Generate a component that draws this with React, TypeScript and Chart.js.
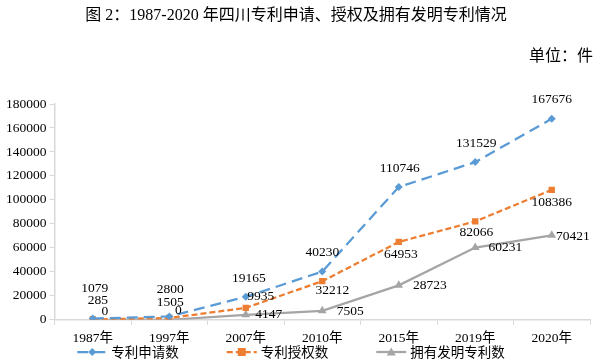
import React, { useEffect, useRef } from "react";
import { Chart, registerables } from "chart.js";

Chart.register(...registerables);

// ---- data ----
const categories = ["1987年", "1997年", "2007年", "2010年", "2015年", "2019年", "2020年"];
const applications = [1079, 2800, 19165, 40230, 110746, 131529, 167676];
const grants = [285, 1505, 9935, 32212, 64953, 82066, 108386];
const inventionOwned = [0, 0, 4147, 7505, 28723, 60231, 70421];
const seriesNames = ["专利申请数", "专利授权数", "拥有发明专利数"];
const yMax = 180000;
const yStep = 20000;
const titleText = "图 2：1987-2020 年四川专利申请、授权及拥有发明专利情况";
const unitText = "单位：件";

// ---- label placement (style, offsets of label centre from point) ----
const labelOffsets: number[][][] = [
  [[2, -30], [1, -27], [3, -18], [0, -19], [1, -19], [1, -19], [0, -19]],
  [[5, -19], [1, -16], [15, -11], [10, 9], [2, 13], [1, 11], [0, 13]],
  [[12, -8], [9, -9], [23, 0], [28, 1], [31, 0], [30, 0], [21, 1]],
];

const SERIF = '"Liberation Serif", "Noto Sans CJK SC", serif';
const CJK = '"Noto Sans CJK SC", "Liberation Serif", sans-serif';
const colors = ["#5B9BD5", "#ED7D31", "#A5A5A5"];
const dashes = [[11, 6], [6, 3], []];
const pointStyles = ["rectRot", "rect", "triangle"];
const pointRadii = [4, 4.5, 5];

const overlayPlugin = {
  id: "overlay",
  afterDatasetsDraw(chart: any) {
    const ctx = chart.ctx;
    ctx.save();
    ctx.fillStyle = "#000";
    ctx.font = `13.5px ${SERIF}`;
    ctx.textAlign = "center";
    ctx.textBaseline = "middle";
    chart.data.datasets.forEach((ds: any, di: number) => {
      const meta = chart.getDatasetMeta(di);
      meta.data.forEach((pt: any, i: number) => {
        const off = labelOffsets[di][i];
        ctx.fillText(String(ds.data[i]), pt.x + off[0], pt.y + off[1]);
      });
    });
    ctx.restore();
  },
  afterDraw(chart: any) {
    const ctx = chart.ctx;
    ctx.save();
    // title
    ctx.fillStyle = "#000";
    ctx.font = `16px ${SERIF}`;
    ctx.textAlign = "center";
    ctx.textBaseline = "middle";
    ctx.fillText(titleText, 296, 16);
    ctx.textAlign = "right";
    ctx.font = `16px ${CJK}`;
    ctx.fillText(unitText, 593, 55);

    // legend
    ctx.font = `13.5px ${CJK}`;
    const lineLen = 30;
    const gap = 4;
    const itemGap = 48;
    const widths = seriesNames.map((n) => lineLen + gap + ctx.measureText(n).width);
    const total = widths.reduce((a, b) => a + b, 0) + itemGap * (widths.length - 1);
    let x = 291 - total / 2;
    const y = 352;
    seriesNames.forEach((name, i) => {
      ctx.strokeStyle = colors[i];
      ctx.lineWidth = 2.25;
      ctx.setLineDash(dashes[i]);
      ctx.beginPath();
      ctx.moveTo(x, y);
      ctx.lineTo(x + lineLen, y);
      ctx.stroke();
      ctx.setLineDash([]);
      ctx.fillStyle = colors[i];
      const cx = x + lineLen / 2;
      ctx.beginPath();
      if (pointStyles[i] === "rectRot") {
        const r = 4;
        ctx.moveTo(cx, y - r);
        ctx.lineTo(cx + r, y);
        ctx.lineTo(cx, y + r);
        ctx.lineTo(cx - r, y);
      } else if (pointStyles[i] === "rect") {
        ctx.rect(cx - 4, y - 4, 8, 8);
      } else {
        ctx.moveTo(cx, y - 4.5);
        ctx.lineTo(cx + 4.5, y + 3.5);
        ctx.lineTo(cx - 4.5, y + 3.5);
      }
      ctx.closePath();
      ctx.fill();
      ctx.fillStyle = "#000";
      ctx.textAlign = "left";
      ctx.fillText(name, x + lineLen + gap, y);
      x += widths[i] + itemGap;
    });
    ctx.restore();
  },
};

export default function App() {
  const ref = useRef<HTMLCanvasElement | null>(null);
  useEffect(() => {
    document.body.style.margin = "0";
    const series = [applications, grants, inventionOwned];
    const chart = new Chart(ref.current as HTMLCanvasElement, {
      type: "line",
      data: {
        labels: categories,
        datasets: series.map((d, i) => ({
          label: seriesNames[i],
          data: d,
          borderColor: colors[i],
          backgroundColor: colors[i],
          borderWidth: 2.25,
          borderDash: dashes[i],
          pointStyle: pointStyles[i] as any,
          pointRadius: pointRadii[i],
          pointBorderWidth: 0,
          pointBackgroundColor: colors[i],
          tension: 0,
          fill: false,
        })),
      },
      options: {
        responsive: false,
        animation: false,
        layout: { padding: { top: 104, left: 3, right: 10, bottom: 8 } },
        plugins: {
          legend: { display: false },
          title: { display: false },
          tooltip: { enabled: false },
        },
        scales: {
          x: {
            offset: true,
            grid: {
              offset: true,
              drawOnChartArea: false,
              drawTicks: true,
              tickLength: 5,
              color: "#D9D9D9",
            },
            border: { color: "#D9D9D9", width: 1.5 },
            ticks: {
              color: "#000",
              font: { family: SERIF, size: 13.5 },
              padding: 6,
              maxRotation: 0,
            },
          },
          y: {
            min: 0,
            max: yMax,
            grid: {
              drawOnChartArea: false,
              drawTicks: true,
              tickLength: 5,
              color: "#D9D9D9",
            },
            border: { color: "#D9D9D9", width: 1.5 },
            ticks: {
              stepSize: yStep,
              color: "#000",
              font: { family: SERIF, size: 13.5 },
              padding: 3,
              callback: (v: any) => String(v),
            },
          },
        },
      },
      plugins: [overlayPlugin],
    });
    return () => chart.destroy();
  }, []);
  return (
    <div style={{ width: 600, height: 361, background: "#fff" }}>
      <canvas ref={ref} width={600} height={361} style={{ display: "block" }} />
    </div>
  );
}
